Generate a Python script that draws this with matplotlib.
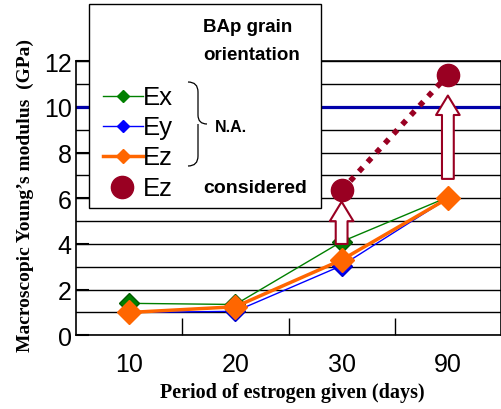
import matplotlib
matplotlib.use("Agg")
import matplotlib.pyplot as plt
from matplotlib.lines import Line2D
from matplotlib.patches import Rectangle, FancyArrowPatch, PathPatch, ArrowStyle
from matplotlib.path import Path

# data
periods = ["10", "20", "30", "90"]
ex = [1.4, 1.35, 4.1, 6.05]
ey = [1.0, 1.05, 3.05, 6.0]
ez = [1.0, 1.25, 3.3, 6.0]
considered_idx = [2, 3]
ez_considered = [6.35, 11.4]
arrow_from = [4.0, 6.85]
arrow_to = [5.85, 10.5]
ref_level = 10.0

W, H = 502, 410
RED = "#990022"


def fp(x, y):
    # pixel position -> figure fraction
    return (x / W, 1 - y / H)


fig = plt.figure(figsize=(W / 100, H / 100), dpi=100)
ax = fig.add_axes([76 / W, 1 - 336.3 / H, 425 / W, 274 / H])

x = list(range(len(periods)))
ax.plot(x, ex, color="#008000", lw=1, marker="D", ms=10,
        mfc="#008000", mec="#005a00", zorder=3)
ax.plot(x, ey, color="#0000FF", lw=1, marker="D", ms=10,
        mfc="#0000FF", mec="#0000cc", zorder=4)
ax.plot(x, ez, color="#FF6600", lw=2.5, marker="D", ms=12,
        mfc="#FF6600", mec="#FF6600", zorder=5)
ax.plot(considered_idx, ez_considered, color=RED, lw=4,
        ls=(0, (1, 1.3)), zorder=4)
ax.plot(considered_idx, ez_considered, "o", ms=16, color=RED, zorder=6)

for i, a0, a1 in zip(considered_idx, arrow_from, arrow_to):
    arr = FancyArrowPatch((i, a0), (i, a1),
                          arrowstyle=ArrowStyle.Simple(head_length=14, head_width=17, tail_width=8.5),
                          mutation_scale=1, shrinkA=0, shrinkB=0,
                          fc="white", ec=RED, lw=1.5, zorder=7)
    ax.add_patch(arr)

ax.axhline(ref_level, color="#0000AA", lw=2.3, zorder=2)

ax.set_xlim(-0.5, 3.5)
ax.set_ylim(0, 12)
ax.set_xticks(x)
ax.set_xticklabels(periods)
ax.set_xticks([0.5, 1.5, 2.5], minor=True)
ax.set_yticks(range(0, 13, 2))
ax.set_yticks(range(1, 12, 2), minor=True)
ax.grid(axis="y", which="both", color="black", lw=1, zorder=1)
ax.set_axisbelow(True)
ax.tick_params(axis="x", which="major", length=0, pad=12, labelsize=18)
ax.tick_params(axis="x", which="minor", direction="in", length=12, width=1)
ax.tick_params(axis="y", which="major", direction="in", length=9, width=1.5,
               pad=3, labelsize=18)
ax.tick_params(axis="y", which="minor", length=0)
for lab in ax.get_xticklabels() + ax.get_yticklabels():
    lab.set_fontfamily("Liberation Sans")
for s in ax.spines.values():
    s.set_linewidth(1.2)

fig.text(*fp(25, 195), "Macroscopic Young\u2019s modulus  (GPa)", rotation=90,
         ha="center", va="center", family="Liberation Serif",
         weight="bold", fontsize=14)
fig.text(*fp(292, 393), "Period of estrogen given (days)", ha="center",
         va="center", family="Liberation Serif", weight="bold", fontsize=14.5)

# legend box drawn over the plot
fig.add_artist(Rectangle(fp(89, 209), 232 / W, 204 / H, transform=fig.transFigure,
                         fc="white", ec="black", lw=1, zorder=10))

bold = dict(family="Liberation Sans", weight="bold", transform=fig.transFigure,
            va="center", ha="left", zorder=11)
fig.text(*fp(203, 28), "BAp grain", fontsize=13.5, **bold)
fig.text(*fp(203, 56), "orientation", fontsize=13.5, **bold)
fig.text(*fp(215, 128), "N.A.", fontsize=11.5, **bold)
fig.text(*fp(203, 189), "considered", fontsize=14, **bold)

entries = [("Ex", "#008000", 1, 6, 97),
           ("Ey", "#0000FF", 1, 6, 127),
           ("Ez", "#FF6600", 2.5, 7, 157)]
for name, col, lw, ms, yy in entries:
    (x0, y0), (x1, _) = fp(103, yy), fp(143, yy)
    fig.add_artist(Line2D([x0, x1], [y0, y0], color=col, lw=lw,
                          transform=fig.transFigure, zorder=11))
    fig.add_artist(Line2D([fp(123, yy)[0]], [y0], marker="D", ms=ms, color=col,
                          transform=fig.transFigure, zorder=12))
    fig.text(*fp(143, yy + 1), name, fontsize=18.5, family="Liberation Sans",
             va="center", ha="left", zorder=11)

cx, cy = fp(122, 188)
fig.add_artist(Line2D([cx], [cy], marker="o", ms=16, color=RED,
                      transform=fig.transFigure, zorder=12))
fig.text(*fp(143, 189), "Ez", fontsize=18.5, family="Liberation Sans",
         va="center", ha="left", zorder=11)

# curly brace
pts = [(188, 83), (198, 83), (198, 93), (198, 116), (198, 125), (207, 125),
       (198, 125), (198, 134), (198, 157), (198, 167), (188, 167)]
codes = [Path.MOVETO, Path.CURVE3, Path.CURVE3, Path.LINETO, Path.CURVE3,
         Path.CURVE3, Path.MOVETO, Path.CURVE3, Path.LINETO, Path.CURVE3, Path.CURVE3]
brace = Path([fp(px, py) for px, py in pts], codes)
fig.add_artist(PathPatch(brace, transform=fig.transFigure, fc="none",
                         ec="black", lw=0.9, zorder=11))

fig.savefig("out.png", dpi=100)
